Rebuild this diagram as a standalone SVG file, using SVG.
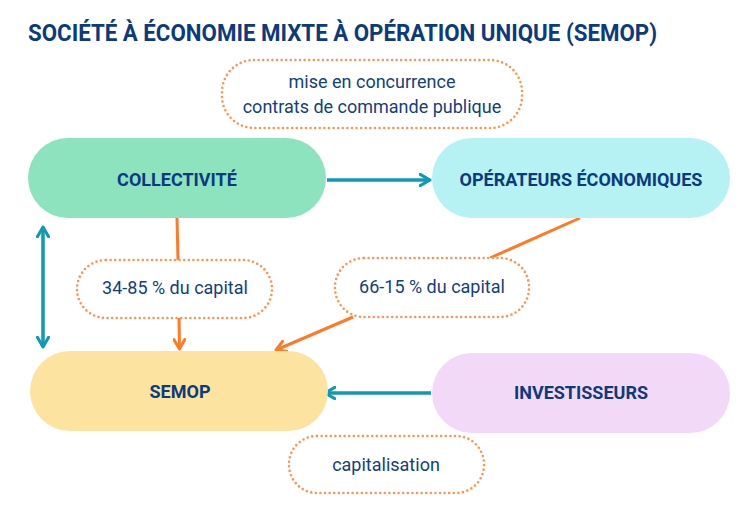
<svg xmlns="http://www.w3.org/2000/svg" width="753" height="523" viewBox="0 0 753 523">
<defs>
<style>
.title{font-family:Roboto,"Liberation Sans",sans-serif;font-weight:700;font-size:23px;fill:#0c3a7c}
.node{font-family:Roboto,"Liberation Sans",sans-serif;font-weight:700;font-size:18px;fill:#0c3a7c;text-anchor:middle}
.lbl{font-family:Roboto,"Liberation Sans",sans-serif;font-size:18px;fill:#123f7d;text-anchor:middle}
.dot{fill:#fff;stroke:#ff9350;stroke-width:2.6;stroke-dasharray:0 4.6;stroke-linecap:round}
.teal{stroke:#0f9ab4;stroke-width:3.5;fill:none}
.orange{stroke:#ff7a26;stroke-width:3;fill:none}
</style>
<marker id="at" viewBox="0 0 10 10" refX="8" refY="5" markerWidth="4" markerHeight="4" orient="auto-start-reverse" markerUnits="strokeWidth">
<path d="M1,1 L8,5 L1,9" fill="none" stroke="#0f9ab4" stroke-width="2.2" stroke-linecap="round" stroke-linejoin="round"/>
</marker>
<marker id="ao" viewBox="0 0 10 10" refX="8" refY="5" markerWidth="4.5" markerHeight="4.5" orient="auto" markerUnits="strokeWidth">
<path d="M1,1 L8,5 L1,9" fill="none" stroke="#ff7a26" stroke-width="2.2" stroke-linecap="round" stroke-linejoin="round"/>
</marker>
</defs>
<rect width="753" height="523" fill="#fff"/>
<text class="title" x="28" y="41" textLength="629" lengthAdjust="spacingAndGlyphs">SOCIÉTÉ À ÉCONOMIE MIXTE À OPÉRATION UNIQUE (SEMOP)</text>

<g id="connectors">
<line class="teal" x1="327" y1="180" x2="430" y2="180" marker-end="url(#at)"/>
<line class="teal" x1="325" y1="393" x2="431" y2="393" marker-start="url(#at)"/>
<line class="teal" x1="43" y1="227" x2="43" y2="347" marker-start="url(#at)" marker-end="url(#at)"/>
<line class="orange" x1="177" y1="218" x2="178" y2="260"/>
<line class="orange" x1="179" y1="318" x2="179.5" y2="349" marker-end="url(#ao)"/>
<line class="orange" x1="580" y1="218" x2="490" y2="258"/>
<line class="orange" x1="353" y1="317" x2="276" y2="350" marker-end="url(#ao)"/>
</g>

<g id="label-mise">
<rect class="dot" x="222" y="60" width="300" height="68" rx="32"/>
<text class="lbl" x="372" y="88">mise en concurrence</text>
<text class="lbl" x="372" y="113">contrats de commande publique</text>
</g>
<g id="collectivite">
<rect x="28" y="138" width="298" height="80" rx="40" fill="#8ee3bf"/>
<text class="node" x="177" y="186">COLLECTIVITÉ</text>
</g>
<g id="operateurs">
<rect x="432" y="138" width="298" height="80" rx="40" fill="#b6f2f3"/>
<text class="node" x="581" y="186">OPÉRATEURS ÉCONOMIQUES</text>
</g>
<g id="label-34">
<rect class="dot" x="77" y="260" width="195" height="58" rx="29"/>
<text class="lbl" x="175" y="294">34-85 % du capital</text>
</g>
<g id="label-66">
<rect class="dot" x="335" y="258" width="194" height="59" rx="29"/>
<text class="lbl" x="432" y="293">66-15 % du capital</text>
</g>
<g id="semop">
<rect x="30" y="351" width="298" height="80" rx="40" fill="#fce3a0"/>
<text class="node" x="180" y="398">SEMOP</text>
</g>
<g id="investisseurs">
<rect x="432" y="353" width="298" height="80" rx="40" fill="#f2d9f7"/>
<text class="node" x="581" y="399">INVESTISSEURS</text>
</g>
<g id="label-cap">
<rect class="dot" x="289" y="436" width="195" height="57" rx="28"/>
<text class="lbl" x="386" y="471">capitalisation</text>
</g>
</svg>
